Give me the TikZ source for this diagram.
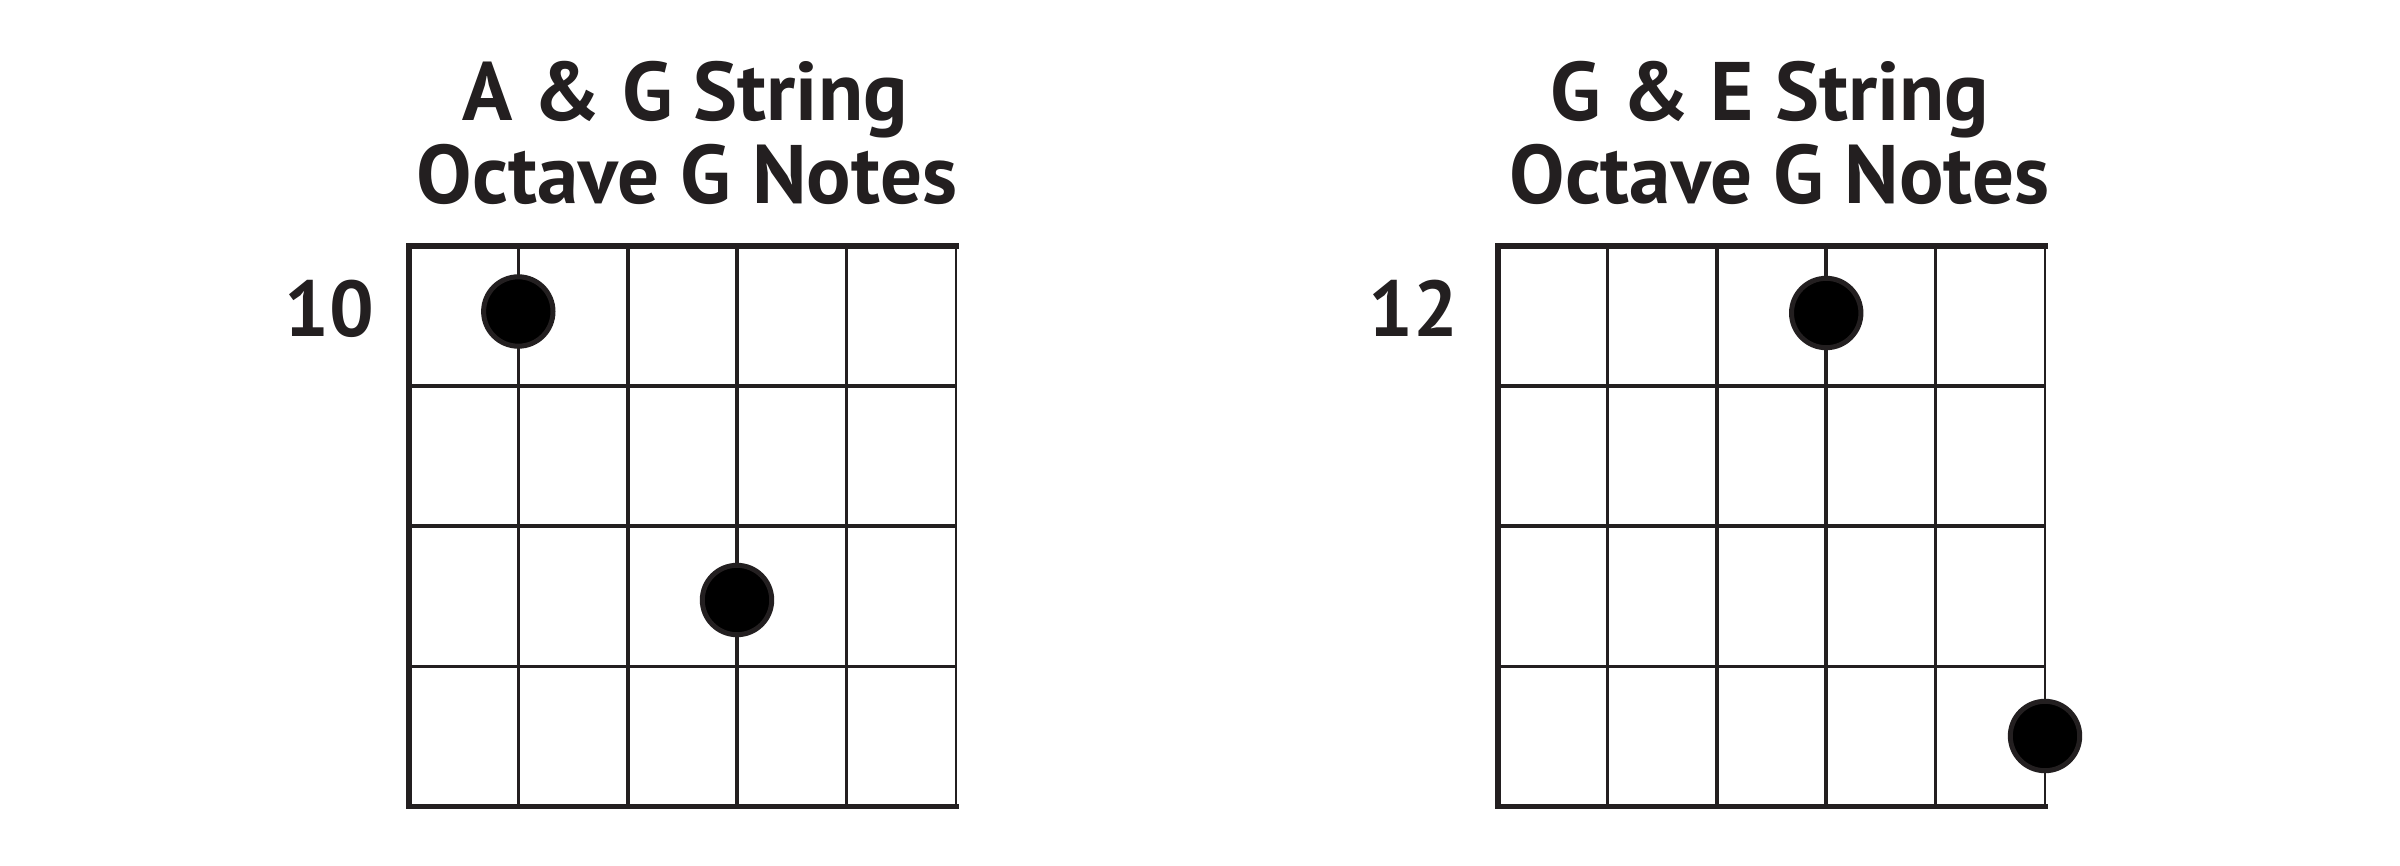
\documentclass[tikz,border=0pt]{standalone}
\usepackage{fontspec}
\setmainfont{PT Sans}
\definecolor{ink}{HTML}{231F20}
\begin{document}
\begin{tikzpicture}[x=1pt,y=-1pt,
  inner/.style={draw=ink,line width=3.5pt},
  outer/.style={draw=ink,line width=5.5pt,line cap=rect},
  edge/.style={draw=ink,line width=1.8pt},
  dot/.style={circle,draw=ink,fill=black,line width=5pt,minimum size=69.4pt,inner sep=0pt},
  title/.style={anchor=base,inner sep=0pt,text=ink,font=\fontsize{83}{85}\selectfont\bfseries},
  fret/.style={anchor=base east,inner sep=0pt,text=ink,font=\fontsize{79}{83}\selectfont\bfseries}]
\useasboundingbox (0,0) rectangle (2400,865);
\fill[white] (0,0) rectangle (2400,865);
% grids
\foreach \ox in {409,1498}{
  \begin{scope}[shift={(\ox,246)}]
    \foreach \i in {1,2,3,4}{\draw[inner] (\i*109.4,0) -- (\i*109.4,560.5);}
    \foreach \j in {1,2,3}{\draw[inner] (0,\j*140.1) -- (547,\j*140.1);}
    \draw[edge] (547,0) -- (547,560.5);
    \draw[outer] (547,0) -- (0,0) -- (0,560.5) -- (547,560.5);
  \end{scope}
}
% titles
\node[title] (t1a) at (685,120) {A \& G String};
\node[title] (t1b) at (687,203.3) {Octave G Notes};
\node[title] (t2a) at (1770,120) {G \& E String};
\node[title] (t2b) at (1779.5,203.3) {Octave G Notes};
% fret numbers
\node[fret] (f1) at (374,336) {10};
\node[fret] (f2) at (1458,336) {12};
% dots
\node[dot] (d1) at (518.3,311.5) {};
\node[dot] (d2) at (737,600) {};
\node[dot] (d3) at (1826.2,313) {};
\node[dot] (d4) at (2045,736) {};
\end{tikzpicture}
\end{document}
